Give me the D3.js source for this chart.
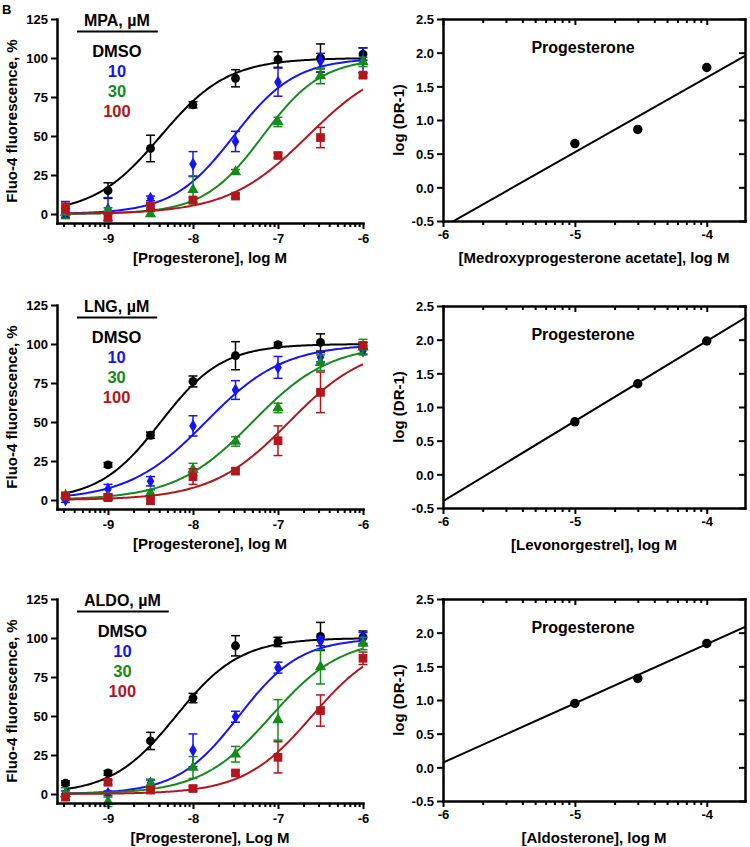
<!DOCTYPE html>
<html><head><meta charset="utf-8">
<script src="https://cdn.jsdelivr.net/npm/d3@7"></script>
<style>
body{margin:0;background:#fff;}
svg{display:block;font-family:"Liberation Sans",Arial,Helvetica,sans-serif;font-weight:bold;}
</style></head><body>
<svg id="c" width="750" height="847"></svg>
<script>
// ---------- data ----------
const logConc = [-9.5, -9, -8.5, -8, -7.5, -7, -6.5, -6];
const seriesNames = ["DMSO", "10", "30", "100"];
const seriesColors = ["#000000", "#1414f5", "#16891b", "#b0161c"];
const seriesSymbols = ["circle", "diamond", "triangle", "square"];

// MPA panel (% fluorescence, mean and SEM)
const mpaDMSO = [0.5, 15, 42, 70, 87, 99, 100, 102.5];
const mpaDMSOErr = [3, 5, 8.5, 2, 5.5, 5, 9, 4];
const mpa10 = [3, 3, 10, 32, 46.5, 84.5, 98, 98.5];
const mpa10Err = [5, 7.5, 1.5, 8, 6.5, 9, 5, 8];
const mpa30 = [1, 2, 0, 15.5, 27, 59, 88.5, 97.5];
const mpa30Err = [4, 2, 1.5, 9, 1.5, 3, 5, 3];
const mpa100 = [4, -2, 5, 9, 11.5, 37.5, 49, 89];
const mpa100Err = [3, 2, 2, 1.5, 1.5, 1.5, 6.5, 1.5];
const mpaLogEC50 = [-8.38, -7.52, -7.18, -6.65];
const mpaHill = [1.1, 1.2, 1.25, 0.92];

// LNG panel
const lngDMSO = [2, 22.5, 41.5, 76, 92.5, 99.5, 101, 99];
const lngDMSOErr = [1.5, 1.5, 2, 3.5, 9, 1.5, 5.5, 2];
const lng10 = [0, 7, 12, 47.5, 70.5, 85, 91.5, 95.5];
const lng10Err = [1.5, 3, 3, 6.5, 6, 7, 3, 2];
const lng30 = [3, 2, 4.5, 19.5, 37.5, 59, 88, 98];
const lng30Err = [2, 1.5, 2, 4, 3, 3, 5, 5];
const lng100 = [2.5, 1.5, -0.5, 15, 18.5, 38, 69, 99];
const lng100Err = [2, 1.5, 2, 5, 1.5, 9.5, 13, 2];
const lngLogEC50 = [-8.38, -7.85, -7.3, -6.87];
const lngHill = [1.2, 0.95, 0.95, 0.95];

// ALDO panel
const aldoDMSO = [7, 13.5, 34, 61.5, 95, 97.5, 101, 100.5];
const aldoDMSOErr = [1.5, 1.5, 5.5, 3, 6.5, 3, 9, 4];
const aldo10 = [0.5, 0.5, 7, 28, 49.5, 81, 98, 99.5];
const aldo10Err = [1.5, 1.5, 2, 10.5, 3.5, 3.5, 3, 4];
const aldo30 = [0, -5, 6.5, 17, 25.5, 47.5, 81.5, 96.5];
const aldo30Err = [4, 3, 3, 7, 5, 13, 11, 4];
const aldo100 = [-2, 7.5, 2.5, 3.5, 13.5, 23.5, 53.5, 87];
const aldo100Err = [2, 1.5, 1.5, 1.5, 1.5, 10, 10, 4];
const aldoLogEC50 = [-8.2, -7.46, -7.08, -6.6];
const aldoHill = [1.15, 1.2, 1.05, 1.08];

const fitTop = 100, fitBottom = 0;

// Schild plots
const antagonistLogM = [-5, -4.523, -4];
const mpaLogDR = [0.65, 0.86, 1.78];
const mpaSchildFit = [1.11, 6.07];   // slope, intercept
const lngLogDR = [0.78, 1.345, 1.98];
const lngSchildFit = [1.19, 6.74];
const aldoLogDR = [0.95, 1.32, 1.84];
const aldoSchildFit = [0.88, 5.35];

const leftYTicks = [0, 25, 50, 75, 100, 125];
const leftXTicks = [-9, -8, -7, -6];
const rightYTicks = [-0.5, 0, 0.5, 1, 1.5, 2, 2.5];
const rightXTicks = [-6, -5, -4];

// ---------- drawing ----------
const svg = d3.select("#c");
const symType = {circle: d3.symbolCircle, diamond: d3.symbolDiamond, triangle: d3.symbolTriangle, square: d3.symbolSquare};
const symSize = {circle: 62, diamond: 50, triangle: 56, square: 76};

function minorTicks(lo, hi) {
  const out = [];
  for (let d = Math.floor(lo) - 1; d <= Math.ceil(hi); d++) {
    for (let k = 2; k <= 9; k++) {
      const v = d + Math.log10(k);
      if (v >= lo && v <= hi) out.push(v);
    }
  }
  return out;
}

function styleAxis(g, w) {
  g.select(".domain").attr("stroke", "#000").attr("stroke-width", w).attr("stroke-linecap", "square");
  g.selectAll(".tick line").attr("stroke", "#000").attr("stroke-width", 2);
  g.selectAll(".tick text").attr("fill", "#000").attr("font-size", 13).attr("font-weight", "bold")
    .attr("font-family", '"Liberation Sans",Arial,sans-serif');
}

const leftPanels = [
  {top: 19, header: "MPA, µM", means: [mpaDMSO, mpa10, mpa30, mpa100], errs: [mpaDMSOErr, mpa10Err, mpa30Err, mpa100Err], ec50: mpaLogEC50, hill: mpaHill, xTitle: "[Progesterone], log M"},
  {top: 305, header: "LNG, µM", means: [lngDMSO, lng10, lng30, lng100], errs: [lngDMSOErr, lng10Err, lng30Err, lng100Err], ec50: lngLogEC50, hill: lngHill, xTitle: "[Progesterone], log M"},
  {top: 599, header: "ALDO, µM", means: [aldoDMSO, aldo10, aldo30, aldo100], errs: [aldoDMSOErr, aldo10Err, aldo30Err, aldo100Err], ec50: aldoLogEC50, hill: aldoHill, xTitle: "[Progesterone], Log M"}
];

leftPanels.forEach(p => {
  const g = svg.append("g");
  const x = d3.scaleLinear().domain([-9.6, -6]).range([57, 363]);
  const y = d3.scaleLinear().domain([-5.77, 125]).range([p.top + 204, p.top]);
  const axisY = p.top + 204;

  // series
  p.means.forEach((vals, si) => {
    const col = seriesColors[si];
    const curvePts = d3.range(-9.5, -5.999, 0.02).map(lx => [lx, fitBottom + (fitTop - fitBottom) / (1 + Math.pow(10, (p.ec50[si] - lx) * p.hill[si]))]);
    g.append("path").attr("d", d3.line().x(d => x(d[0])).y(d => y(d[1]))(curvePts))
      .attr("fill", "none").attr("stroke", col).attr("stroke-width", 2);
    const eg = g.append("g").attr("stroke", col).attr("stroke-width", 1.5);
    vals.forEach((v, i) => {
      const e = p.errs[si][i];
      const cx = x(logConc[i]);
      eg.append("line").attr("x1", cx).attr("x2", cx).attr("y1", y(v - e)).attr("y2", y(v + e));
      eg.append("line").attr("x1", cx - 4.5).attr("x2", cx + 4.5).attr("y1", y(v + e)).attr("y2", y(v + e));
      eg.append("line").attr("x1", cx - 4.5).attr("x2", cx + 4.5).attr("y1", y(v - e)).attr("y2", y(v - e));
    });
    const sym = d3.symbol().type(symType[seriesSymbols[si]]).size(symSize[seriesSymbols[si]]);
    vals.forEach((v, i) => {
      g.append("path").attr("d", sym()).attr("fill", col)
        .attr("transform", `translate(${x(logConc[i])},${y(v)})`);
    });
  });

  // axes
  const gx = g.append("g").attr("transform", `translate(0,${axisY})`)
    .call(d3.axisBottom(x).tickValues(leftXTicks).tickSize(6).tickSizeOuter(0).tickFormat(d => String(d)));
  styleAxis(gx, 2.5);
  gx.selectAll(".tick text").attr("y", 20).attr("dy", 0);
  const gxm = g.append("g").attr("transform", `translate(0,${axisY})`)
    .call(d3.axisBottom(x).tickValues(minorTicks(-9.6, -6)).tickSize(4).tickSizeOuter(0).tickFormat(""));
  gxm.select(".domain").remove();
  gxm.selectAll(".tick line").attr("stroke", "#000").attr("stroke-width", 2);

  const gy = g.append("g").attr("transform", "translate(57,0)")
    .call(d3.axisLeft(y).tickValues(leftYTicks).tickSize(6).tickSizeOuter(0).tickPadding(3));
  styleAxis(gy, 2.5);
  gy.selectAll(".tick text").attr("dy", "0.36em");

  // titles
  g.append("text").attr("transform", `translate(17,${(p.top + axisY) / 2}) rotate(-90)`)
    .attr("text-anchor", "middle").attr("font-size", 15).text("Fluo-4 fluorescence, %");
  g.append("text").attr("x", 210).attr("y", axisY + 40).attr("text-anchor", "middle")
    .attr("font-size", 15).text(p.xTitle);

  // legend
  const hdr = g.append("text").attr("x", 84).attr("y", p.top + 7).attr("font-size", 16).text(p.header);
  const hw = hdr.node().getComputedTextLength();
  g.append("line").attr("x1", 84 - 7).attr("x2", 84 + hw + 8)
    .attr("y1", p.top + 12.5).attr("y2", p.top + 12.5).attr("stroke", "#000").attr("stroke-width", 2);
  seriesNames.forEach((nm, si) => {
    g.append("text").attr("x", 84 + hw / 2).attr("y", p.top + 38 + si * 20)
      .attr("text-anchor", "middle").attr("font-size", 16.5).attr("fill", seriesColors[si]).text(nm);
  });
});

const rightPanels = [
  {top: 19, pts: mpaLogDR, fit: mpaSchildFit, xTitle: "[Medroxyprogesterone acetate], log M"},
  {top: 306, pts: lngLogDR, fit: lngSchildFit, xTitle: "[Levonorgestrel], log M"},
  {top: 599, pts: aldoLogDR, fit: aldoSchildFit, xTitle: "[Aldosterone], log M"}
];

rightPanels.forEach((p, pi) => {
  const g = svg.append("g");
  const L = 443, R = 745, T = p.top, B = p.top + 202;
  const x = d3.scaleLinear().domain([-6, -3.71]).range([L, R]);
  const y = d3.scaleLinear().domain([-0.5, 2.5]).range([B, T]);

  const cid = "clipR" + pi;
  g.append("clipPath").attr("id", cid).append("rect").attr("x", L).attr("y", T).attr("width", R - L).attr("height", B - T);
  const xd = x.domain();
  g.append("line").attr("clip-path", `url(#${cid})`)
    .attr("x1", x(xd[0])).attr("y1", y(p.fit[0] * xd[0] + p.fit[1]))
    .attr("x2", x(xd[1])).attr("y2", y(p.fit[0] * xd[1] + p.fit[1]))
    .attr("stroke", "#000").attr("stroke-width", 2);
  const sym = d3.symbol().type(d3.symbolCircle).size(70);
  p.pts.forEach((v, i) => {
    g.append("path").attr("d", sym()).attr("fill", "#000")
      .attr("transform", `translate(${x(antagonistLogM[i])},${y(v)})`);
  });

  const mins = minorTicks(-6, -3.71);
  // bottom
  const gb = g.append("g").attr("transform", `translate(0,${B})`)
    .call(d3.axisBottom(x).tickValues(rightXTicks).tickSize(6).tickSizeOuter(0).tickFormat(d => String(d)));
  styleAxis(gb, 2.5);
  gb.selectAll(".tick text").attr("y", 18).attr("dy", 0);
  const gbm = g.append("g").attr("transform", `translate(0,${B})`)
    .call(d3.axisBottom(x).tickValues(mins).tickSize(4).tickFormat(""));
  gbm.select(".domain").remove();
  gbm.selectAll(".tick line").attr("stroke", "#000").attr("stroke-width", 2);
  // top (inward)
  const gt = g.append("g").attr("transform", `translate(0,${T})`)
    .call(d3.axisBottom(x).tickValues(rightXTicks).tickSize(6).tickSizeOuter(0).tickFormat(""));
  styleAxis(gt, 2.5);
  const gtm = g.append("g").attr("transform", `translate(0,${T})`)
    .call(d3.axisBottom(x).tickValues(mins).tickSize(4).tickFormat(""));
  gtm.select(".domain").remove();
  gtm.selectAll(".tick line").attr("stroke", "#000").attr("stroke-width", 2);
  // left
  const gl = g.append("g").attr("transform", `translate(${L},0)`)
    .call(d3.axisLeft(y).tickValues(rightYTicks).tickSize(6).tickSizeOuter(0).tickPadding(3).tickFormat(d => d.toFixed(1)));
  styleAxis(gl, 2.5);
  gl.selectAll(".tick text").attr("dy", "0.36em");
  // right (inward)
  const gr = g.append("g").attr("transform", `translate(${R},0)`)
    .call(d3.axisRight(y).tickValues(rightYTicks).tickSize(-6).tickSizeOuter(0).tickFormat(""));
  styleAxis(gr, 2.5);

  g.append("text").attr("x", 583).attr("y", T + 34).attr("text-anchor", "middle").attr("font-size", 16).text("Progesterone");
  g.append("text").attr("transform", `translate(404,${(T + B) / 2}) rotate(-90)`)
    .attr("text-anchor", "middle").attr("font-size", 15).text("log (DR-1)");
  g.append("text").attr("x", (L + R) / 2).attr("y", B + 42).attr("text-anchor", "middle")
    .attr("font-size", 15).text(p.xTitle);
});

// panel letter
svg.append("text").attr("x", 2).attr("y", 14).attr("font-size", 13).text("B");
</script>
</body></html>
